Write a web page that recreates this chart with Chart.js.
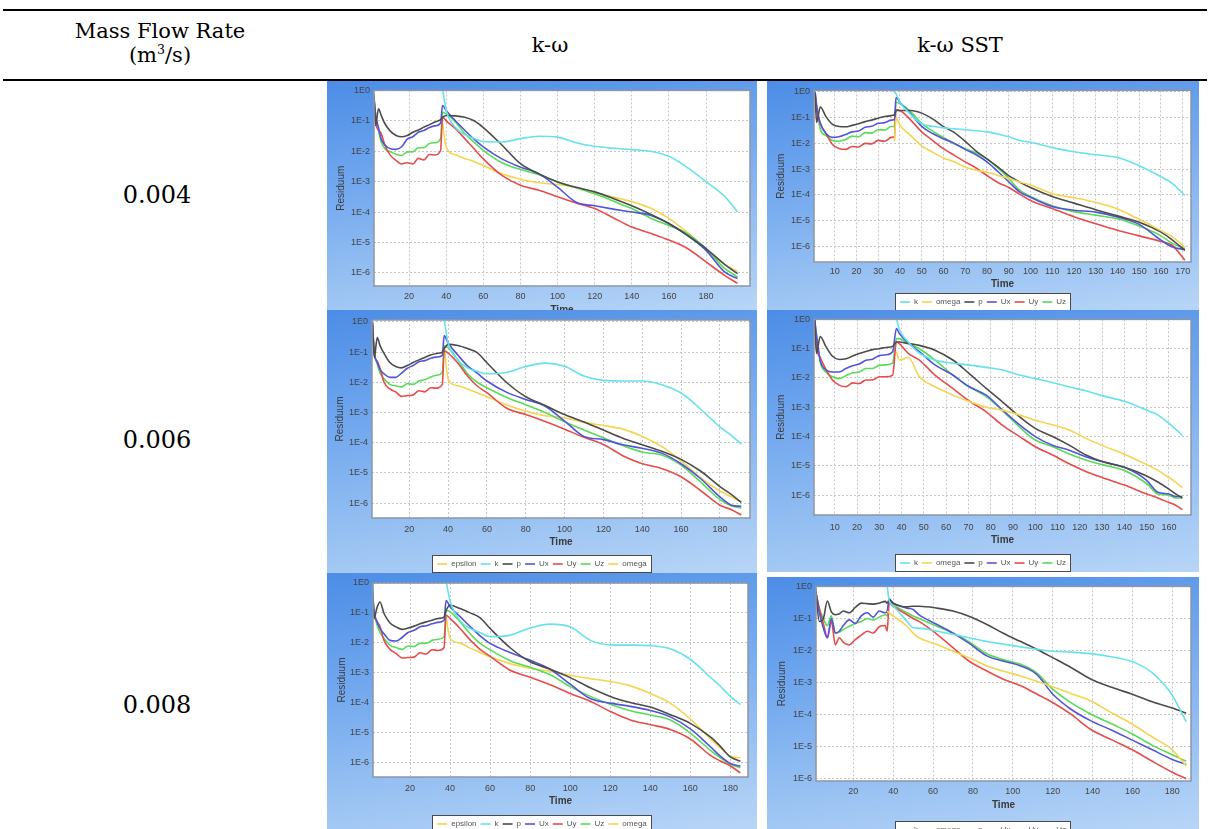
<!DOCTYPE html>
<html>
<head>
<meta charset="utf-8">
<script src="https://cdn.jsdelivr.net/npm/chart.js@4.4.0/dist/chart.umd.min.js"></script>
<style>
  body { margin: 0; width: 1208px; height: 829px; overflow: hidden; background: #fff; position: relative; }
  .rule { position: absolute; left: 3px; width: 1204px; height: 2px; background: #000; }
  .txt { position: absolute; font-family: 'DejaVu Serif', 'Liberation Serif', serif; font-size: 21px; line-height: 24px; color: #000; text-align: center; white-space: nowrap; }
  .txt sup { font-size: 60%; line-height: 0; }
  .num { font-size: 24px; }
  .panel { position: absolute; overflow: hidden;
           background: linear-gradient(172deg, #4d8de6 0%, #6fa6ee 35%, #9cc4f3 75%, #b8d5f7 100%); }
  .panel canvas { position: absolute; left: 0; top: 0; }
</style>
</head>
<body>
<div class="rule" style="top:9px"></div>
<div class="rule" style="top:79px"></div>
<div class="txt" style="left:0;width:320px;top:19px">Mass Flow Rate<br>(m<sup>3</sup>/s)</div>
<div class="txt" style="left:350px;width:400px;top:33px">k-ω</div>
<div class="txt" style="left:760px;width:400px;top:33px">k-ω SST</div>
<div class="txt num" style="left:57px;width:200px;top:183px">0.004</div>
<div class="txt num" style="left:57px;width:200px;top:428px">0.006</div>
<div class="txt num" style="left:57px;width:200px;top:693px">0.008</div>

<div class="panel" id="boxA"><canvas id="chartA"></canvas></div>
<div class="panel" id="boxB"><canvas id="chartB"></canvas></div>
<div class="panel" id="boxC"><canvas id="chartC"></canvas></div>
<div class="panel" id="boxD"><canvas id="chartD"></canvas></div>
<div class="panel" id="boxE"><canvas id="chartE"></canvas></div>
<div class="panel" id="boxF"><canvas id="chartF"></canvas></div>

<script>
// series names and tick labels
const namesKw = ['epsilon', 'k', 'p', 'Ux', 'Uy', 'Uz', 'omega'];
const namesSst = ['k', 'omega', 'p', 'Ux', 'Uy', 'Uz'];
const yTickValues = [1e-6, 1e-5, 1e-4, 1e-3, 1e-2, 1e-1, 1];
const yTickLabels = ['1E-6', '1E-5', '1E-4', '1E-3', '1E-2', '1E-1', '1E0'];
const xTicks20 = [20, 40, 60, 80, 100, 120, 140, 160, 180];
const xTicks10 = [10, 20, 30, 40, 50, 60, 70, 80, 90, 100, 110, 120, 130, 140, 150, 160, 170];

// k-omega, 0.004
const timeA = [1, 2, 3.5, 5, 7, 10, 13, 16, 19, 22, 25, 28, 31, 34, 37, 38, 40, 45, 50, 55, 60, 70, 80, 90, 100, 110, 120, 130, 140, 150, 160, 170, 180, 190, 197];
const pA = [0.78, 0.07, 0.25, 0.15, 0.08, 0.045, 0.033, 0.03, 0.033, 0.042, 0.05, 0.062, 0.075, 0.092, 0.11, 0.13, 0.15, 0.145, 0.13, 0.1, 0.06, 0.016, 0.0039, 0.0018, 9.8e-4, 6.5e-4, 4.6e-4, 2.8e-4, 1.6e-4, 8.5e-5, 4.2e-5, 1.7e-5, 6.3e-6, 1.9e-6, 9.5e-7];
const kA = [null, null, null, null, null, null, null, null, null, null, null, null, null, null, null, 1.2, 0.22, 0.06, 0.035, 0.026, 0.021, 0.02, 0.026, 0.031, 0.029, 0.019, 0.0145, 0.0125, 0.0113, 0.01, 0.0068, 0.0029, 0.001, 3.3e-4, 1.0e-4];
const omegaA = [null, null, null, null, null, null, null, null, null, null, null, null, null, null, null, 0.09, 0.014, 0.0076, 0.0058, 0.0046, 0.0034, 0.0018, 0.0012, 9.2e-4, 8e-4, 6.4e-4, 4.4e-4, 3.1e-4, 2.2e-4, 1.35e-4, 6.2e-5, 2.1e-5, 6e-6, 1.9e-6, 1.1e-6];
const uxA = [0.69, 0.15, 0.06, 0.025, 0.016, 0.012, 0.0115, 0.014, 0.025, 0.03, 0.042, 0.048, 0.06, 0.068, 0.085, 0.32, 0.22, 0.1, 0.049, 0.025, 0.014, 0.0056, 0.003, 0.0018, 6.6e-4, 2.1e-4, 1.6e-4, 1.25e-4, 1.0e-4, 7.9e-5, 4.2e-5, 1.7e-5, 5.5e-6, 1.07e-6, 6.5e-7];
const uyA = [0.69, 0.09, 0.05, 0.038, 0.0155, 0.0073, 0.005, 0.0038, 0.0042, 0.0038, 0.0058, 0.0052, 0.0078, 0.0075, 0.0107, 0.13, 0.1, 0.055, 0.026, 0.012, 0.0056, 0.0016, 7.6e-4, 5.2e-4, 3.2e-4, 2e-4, 1.3e-4, 6.5e-5, 3.2e-5, 2e-5, 1.2e-5, 6.3e-6, 2.3e-6, 8.3e-7, 4.5e-7];
const uzA = [0.69, 0.15, 0.05, 0.02, 0.012, 0.0095, 0.008, 0.0072, 0.0095, 0.0095, 0.013, 0.013, 0.018, 0.019, 0.026, 0.19, 0.17, 0.091, 0.038, 0.02, 0.0107, 0.0042, 0.0025, 0.0017, 9.8e-4, 6.3e-4, 4e-4, 2.3e-4, 1.3e-4, 6.4e-5, 3.6e-5, 1.95e-5, 6.3e-6, 1.4e-6, 7.4e-7];

// k-omega, 0.006
const timeB = [1, 2, 3.5, 5, 7, 10, 13, 16, 19, 22, 25, 28, 31, 34, 37, 38, 40, 45, 50, 55, 60, 70, 80, 90, 100, 110, 120, 130, 140, 150, 160, 170, 180, 186, 191];
const pB = [0.95, 0.065, 0.3, 0.16, 0.09, 0.045, 0.033, 0.03, 0.036, 0.045, 0.055, 0.066, 0.08, 0.09, 0.1, 0.13, 0.18, 0.165, 0.13, 0.095, 0.044, 0.01, 0.0033, 0.0017, 8.5e-4, 4.8e-4, 2.6e-4, 1.4e-4, 8.5e-5, 5.2e-5, 2.8e-5, 1.15e-5, 3.5e-6, 1.9e-6, 1.05e-6];
const kB = [null, null, null, null, null, null, null, null, null, null, null, null, null, null, null, 1.2, 0.2, 0.055, 0.03, 0.023, 0.019, 0.021, 0.033, 0.043, 0.034, 0.016, 0.0115, 0.011, 0.011, 0.0083, 0.0044, 0.0013, 3.3e-4, 1.7e-4, 9e-5];
const omegaB = [null, null, null, null, null, null, null, null, null, null, null, null, null, null, null, 0.15, 0.013, 0.0076, 0.006, 0.0045, 0.0033, 0.0018, 0.0011, 7.8e-4, 6.6e-4, 4.7e-4, 3.7e-4, 2.8e-4, 1.6e-4, 7.5e-5, 2.5e-5, 7e-6, 2.5e-6, 1.6e-6, 1.1e-6];
const uxB = [0.95, 0.1, 0.045, 0.026, 0.019, 0.0145, 0.0145, 0.02, 0.029, 0.036, 0.048, 0.052, 0.062, 0.068, 0.078, 0.35, 0.2, 0.08, 0.035, 0.02, 0.011, 0.0047, 0.0027, 0.0016, 5.2e-4, 1.6e-4, 1.26e-4, 8.5e-5, 6.5e-5, 4.5e-5, 2e-5, 6.5e-6, 1.6e-6, 8.5e-7, 7.8e-7];
const uyB = [0.95, 0.08, 0.05, 0.028, 0.01, 0.006, 0.0048, 0.0034, 0.0036, 0.0038, 0.0052, 0.0048, 0.0066, 0.0064, 0.0085, 0.11, 0.092, 0.043, 0.016, 0.0075, 0.0045, 0.0014, 8.5e-4, 5e-4, 2.8e-4, 1.5e-4, 8.7e-5, 3.7e-5, 2e-5, 1.4e-5, 7.4e-6, 2.6e-6, 8.5e-7, 6e-7, 4e-7];
const uzB = [0.95, 0.1, 0.04, 0.02, 0.013, 0.0085, 0.0076, 0.007, 0.009, 0.0085, 0.011, 0.012, 0.015, 0.017, 0.021, 0.16, 0.14, 0.055, 0.019, 0.01, 0.0066, 0.0032, 0.0018, 0.001, 4.9e-4, 2.6e-4, 1.45e-4, 8e-5, 4.9e-5, 3.9e-5, 1.8e-5, 5e-6, 1.3e-6, 8e-7, 6.8e-7];

// k-omega, 0.008
const timeC = [1, 2, 3.5, 5, 7, 10, 13, 16, 19, 22, 25, 28, 31, 34, 37, 38, 40, 45, 50, 55, 60, 70, 80, 90, 100, 110, 120, 130, 140, 150, 160, 170, 175, 180, 185];
const pC = [0.98, 0.065, 0.15, 0.23, 0.095, 0.046, 0.034, 0.028, 0.031, 0.036, 0.043, 0.05, 0.057, 0.065, 0.072, 0.12, 0.18, 0.14, 0.1, 0.068, 0.03, 0.0068, 0.0023, 0.0013, 6.8e-4, 3.1e-4, 1.6e-4, 1e-4, 7e-5, 3.9e-5, 2e-5, 7e-6, 3.4e-6, 1.5e-6, 1.07e-6];
const kC = [null, null, null, null, null, null, null, null, null, null, null, null, null, null, null, 1.2, 0.25, 0.055, 0.03, 0.022, 0.016, 0.018, 0.031, 0.042, 0.034, 0.012, 0.0085, 0.0083, 0.008, 0.0063, 0.0028, 7e-4, 3.5e-4, 1.6e-4, 8.5e-5];
const omegaC = [null, null, null, null, null, null, null, null, null, null, null, null, null, null, null, 0.07, 0.014, 0.0097, 0.0066, 0.0047, 0.0034, 0.002, 0.0014, 0.0011, 8.2e-4, 6.3e-4, 5e-4, 3.6e-4, 2e-4, 9.5e-5, 2.8e-5, 6.2e-6, 3e-6, 1.6e-6, 1.4e-6];
const uxC = [0.98, 0.12, 0.05, 0.03, 0.02, 0.012, 0.0115, 0.015, 0.022, 0.026, 0.034, 0.037, 0.043, 0.048, 0.057, 0.26, 0.16, 0.075, 0.035, 0.017, 0.0095, 0.0047, 0.0026, 0.0013, 4.1e-4, 1.35e-4, 9.5e-5, 7.4e-5, 5.4e-5, 3.3e-5, 1.3e-5, 3.3e-6, 1.6e-6, 9e-7, 7.4e-7];
const uyC = [0.98, 0.1, 0.052, 0.035, 0.012, 0.006, 0.0044, 0.0031, 0.0032, 0.0033, 0.0046, 0.0042, 0.0058, 0.0055, 0.0069, 0.083, 0.065, 0.03, 0.0125, 0.006, 0.0035, 0.0012, 7e-4, 3.9e-4, 2e-4, 1.1e-4, 5e-5, 2.6e-5, 1.8e-5, 1.25e-5, 6e-6, 1.7e-6, 1.1e-6, 7.5e-7, 4.4e-7];
const uzC = [0.98, 0.12, 0.04, 0.022, 0.014, 0.0082, 0.0069, 0.006, 0.0078, 0.0075, 0.0095, 0.0095, 0.012, 0.013, 0.016, 0.12, 0.11, 0.05, 0.02, 0.0095, 0.0058, 0.0025, 0.0015, 8.5e-4, 3.4e-4, 1.6e-4, 8.7e-5, 5.3e-5, 3.8e-5, 2.6e-5, 9.5e-6, 2.5e-6, 1.4e-6, 8.5e-7, 6.5e-7];

// k-omega SST, 0.004
const timeD = [1, 1.7, 3.4, 6, 9, 12, 15, 18, 21, 24, 27, 30, 33, 36, 37.5, 38.2, 40, 45, 50, 55, 60, 65, 70, 75, 80, 85, 90, 95, 100, 110, 120, 130, 140, 150, 160, 165, 171];
const pD = [0.87, 0.065, 0.26, 0.11, 0.055, 0.045, 0.044, 0.05, 0.058, 0.07, 0.08, 0.095, 0.11, 0.12, 0.13, 0.19, 0.19, 0.19, 0.15, 0.09, 0.045, 0.026, 0.012, 0.005, 0.0025, 0.0012, 5.5e-4, 3.1e-4, 1.9e-4, 8.5e-5, 4.7e-5, 2.6e-5, 1.5e-5, 8.5e-6, 3.5e-6, 1.8e-6, 6.8e-7];
const kD = [null, null, null, null, null, null, null, null, null, null, null, null, null, 1.3, 1.0, 0.85, 0.4, 0.13, 0.058, 0.046, 0.04, 0.037, 0.034, 0.031, 0.028, 0.023, 0.018, 0.013, 0.011, 0.0068, 0.0047, 0.0036, 0.0028, 0.00135, 5e-4, 2.8e-4, 9.3e-5];
const omegaD = [null, null, null, null, null, null, null, null, null, null, null, null, null, null, 0.012, 0.1, 0.05, 0.02, 0.008, 0.0045, 0.0027, 0.0019, 0.0012, 9e-4, 7.6e-4, 5.6e-4, 4.3e-4, 3.1e-4, 2.4e-4, 1.1e-4, 7.6e-5, 5e-5, 2.8e-5, 1.1e-5, 4e-6, 2.4e-6, 9e-7];
const uxD = [1.0, 0.3, 0.06, 0.024, 0.017, 0.018, 0.022, 0.028, 0.03, 0.042, 0.046, 0.06, 0.064, 0.08, 0.085, 0.6, 0.4, 0.14, 0.046, 0.024, 0.015, 0.0098, 0.0058, 0.0036, 0.0019, 8e-4, 3.2e-4, 1.3e-4, 8e-5, 3.5e-5, 2.5e-5, 2.1e-5, 1.35e-5, 7e-6, 1.7e-6, 9.5e-7, 7.2e-7];
const uyD = [1.0, 0.2, 0.06, 0.024, 0.009, 0.0063, 0.0058, 0.0075, 0.0072, 0.01, 0.0095, 0.013, 0.012, 0.017, 0.018, 0.2, 0.19, 0.08, 0.028, 0.013, 0.0062, 0.0034, 0.0019, 0.0011, 5.6e-4, 3e-4, 1.9e-4, 1.05e-4, 6e-5, 2.9e-5, 1.4e-5, 7.4e-6, 4.1e-6, 2.5e-6, 1.5e-6, 1.1e-6, 2.8e-7];
const uzD = [1.0, 0.3, 0.035, 0.02, 0.013, 0.012, 0.014, 0.019, 0.018, 0.026, 0.025, 0.034, 0.033, 0.045, 0.045, 0.4, 0.35, 0.17, 0.06, 0.03, 0.017, 0.0098, 0.0062, 0.0042, 0.0025, 0.0011, 4.3e-4, 1.5e-4, 8.5e-5, 3.7e-5, 2.2e-5, 1.6e-5, 1.15e-5, 6e-6, 2.5e-6, 1.3e-6, 8e-7];

// k-omega SST, 0.006
const timeE = [1, 1.8, 3.5, 6, 9, 12, 15, 18, 21, 24, 27, 30, 33, 36, 37.7, 39, 43, 48, 55, 63, 70, 78, 85, 93, 100, 108, 115, 123, 130, 140, 150, 155, 160, 163, 166];
const pE = [0.96, 0.069, 0.26, 0.12, 0.055, 0.043, 0.045, 0.056, 0.069, 0.08, 0.093, 0.1, 0.11, 0.12, 0.17, 0.17, 0.15, 0.13, 0.089, 0.041, 0.015, 0.0044, 0.0016, 4.7e-4, 1.9e-4, 9.8e-5, 5.2e-5, 2.3e-5, 1.4e-5, 8.9e-6, 4.5e-6, 2.8e-6, 1.6e-6, 1.1e-6, 8e-7];
const kE = [null, null, null, null, null, null, null, null, null, null, null, null, null, null, 1.1, 0.45, 0.17, 0.07, 0.041, 0.032, 0.028, 0.023, 0.019, 0.0126, 0.0095, 0.0069, 0.005, 0.0036, 0.0025, 0.0016, 8e-4, 5.5e-4, 2.8e-4, 1.8e-4, 1.1e-4];
const omegaE = [null, null, null, null, null, null, null, null, null, null, null, null, null, null, 0.08, 0.041, 0.05, 0.011, 0.005, 0.0026, 0.0016, 0.001, 8e-4, 5.4e-4, 3.6e-4, 2.5e-4, 1.7e-4, 8.5e-5, 5e-5, 2.5e-5, 1.1e-5, 7e-6, 4e-6, 2.8e-6, 1.8e-6];
const uxE = [0.96, 0.3, 0.04, 0.019, 0.016, 0.016, 0.021, 0.026, 0.03, 0.04, 0.044, 0.058, 0.062, 0.079, 0.49, 0.33, 0.16, 0.079, 0.028, 0.0126, 0.0052, 0.0026, 8.5e-4, 2.5e-4, 1e-4, 5e-5, 3.5e-5, 2e-5, 1.4e-5, 8.9e-6, 3.2e-6, 1.26e-6, 1.1e-6, 9e-7, 9e-7];
const uyE = [0.96, 0.12, 0.05, 0.02, 0.0085, 0.0057, 0.005, 0.0068, 0.0065, 0.0085, 0.0085, 0.011, 0.011, 0.0126, 0.17, 0.15, 0.069, 0.041, 0.0126, 0.0044, 0.0017, 7e-4, 2.5e-4, 1e-4, 4.5e-5, 2.3e-5, 1.2e-5, 6.3e-6, 4e-6, 2.2e-6, 1.1e-6, 8e-7, 5.6e-7, 4.5e-7, 3.2e-7];
const uzE = [0.96, 0.3, 0.034, 0.016, 0.011, 0.0095, 0.012, 0.015, 0.016, 0.021, 0.021, 0.027, 0.028, 0.032, 0.22, 0.22, 0.15, 0.1, 0.041, 0.0126, 0.0052, 0.0023, 8e-4, 2.1e-4, 7.6e-5, 4.5e-5, 2.6e-5, 1.55e-5, 1.1e-5, 7e-6, 2.5e-6, 1.1e-6, 1e-6, 8e-7, 8e-7];

// k-omega SST, 0.008
const timeF = [1, 3, 5, 7, 9, 11, 13, 15, 18, 21, 24, 27, 30, 33, 36, 37, 38, 40, 47, 50, 53, 62, 70, 78, 87, 95, 104, 112, 120, 129, 139, 150, 160, 170, 180, 187];
const pF = [0.88, 0.08, 0.1, 0.35, 0.16, 0.13, 0.14, 0.17, 0.15, 0.22, 0.3, 0.29, 0.28, 0.3, 0.34, 0.3, 0.38, 0.3, 0.23, 0.24, 0.24, 0.21, 0.17, 0.117, 0.065, 0.035, 0.019, 0.011, 0.006, 0.003, 0.0013, 7e-4, 4.3e-4, 2.5e-4, 1.6e-4, 1.1e-4];
const kF = [null, null, null, null, null, null, null, null, null, null, null, null, null, null, 1.3, 1.0, 0.36, 0.25, 0.081, 0.051, 0.05, 0.04, 0.032, 0.025, 0.019, 0.016, 0.013, 0.011, 0.0095, 0.0089, 0.008, 0.0063, 0.0045, 0.002, 4e-4, 6e-5];
const omegaF = [null, null, null, null, null, null, null, null, null, null, null, null, null, null, null, 0.17, 0.15, 0.12, 0.057, 0.035, 0.025, 0.0155, 0.0095, 0.006, 0.0033, 0.0023, 0.0016, 0.0011, 7.4e-4, 4.6e-4, 2.7e-4, 1.1e-4, 5e-5, 2e-5, 8e-6, 2.5e-6];
const uxF = [0.8, 0.15, 0.05, 0.025, 0.1, 0.035, 0.04, 0.06, 0.09, 0.07, 0.12, 0.15, 0.11, 0.17, 0.15, 0.17, 0.4, 0.3, 0.21, 0.19, 0.13, 0.065, 0.035, 0.017, 0.0068, 0.0047, 0.0033, 0.0018, 4.4e-4, 1.5e-4, 6.5e-5, 3.2e-5, 1.6e-5, 8e-6, 4e-6, 2.8e-6];
const uyF = [0.8, 0.2, 0.07, 0.025, 0.08, 0.015, 0.025, 0.018, 0.015, 0.022, 0.03, 0.04, 0.035, 0.055, 0.06, 0.04, 0.3, 0.24, 0.13, 0.1, 0.081, 0.032, 0.0123, 0.0047, 0.0023, 0.0013, 7.9e-4, 4.4e-4, 2.4e-4, 1.05e-4, 3.5e-5, 1.6e-5, 8e-6, 3.5e-6, 1.6e-6, 1e-6];
const uzF = [0.8, 0.2, 0.1, 0.06, 0.12, 0.035, 0.038, 0.045, 0.057, 0.07, 0.08, 0.1, 0.09, 0.11, 0.13, 0.12, 0.34, 0.27, 0.15, 0.12, 0.1, 0.057, 0.035, 0.019, 0.0079, 0.0052, 0.0037, 0.002, 6.2e-4, 2.4e-4, 1.05e-4, 5e-5, 2.5e-5, 1.1e-5, 5.6e-6, 3.5e-6];

const lineColors = {
  epsilon: '#f3d04c', k: '#66e2ea', p: '#4c4c4c', Ux: '#5454da',
  Uy: '#e64c4c', Uz: '#58dc58', omega: '#f5d452'
};

Chart.defaults.font.family = "'Liberation Sans', Arial, sans-serif";
Chart.defaults.color = '#444';

// white plot area with a grey outline, and a framed legend like the original screenshots
const framePlugin = {
  id: 'frame',
  beforeDraw(chart) {
    const { ctx, chartArea: a } = chart;
    ctx.save();
    ctx.fillStyle = '#ffffff';
    ctx.fillRect(a.left, a.top, a.right - a.left, a.bottom - a.top);
    const b = legendBounds(chart);
    if (b) ctx.fillRect(b.x, b.y, b.w, b.h);
    ctx.restore();
  },
  afterDraw(chart) {
    const { ctx, chartArea: a } = chart;
    ctx.save();
    ctx.strokeStyle = '#8c96a4';
    ctx.lineWidth = 1.5;
    ctx.strokeRect(a.left, a.top, a.right - a.left, a.bottom - a.top);
    const b = legendBounds(chart);
    if (b) {
      ctx.strokeStyle = '#4a4a4a';
      ctx.lineWidth = 1;
      ctx.strokeRect(b.x + 0.5, b.y + 0.5, b.w, b.h);
    }
    ctx.restore();
  }
};

function legendBounds(chart) {
  const hb = chart.legend && chart.legend.legendHitBoxes;
  if (!hb || !hb.length) return null;
  const x0 = Math.min(...hb.map(h => h.left));
  const x1 = Math.max(...hb.map(h => h.left + h.width));
  const y0 = Math.min(...hb.map(h => h.top));
  const y1 = Math.max(...hb.map(h => h.top + h.height));
  return { x: Math.round(x0 - 5), y: Math.round(y0 - 5), w: Math.round(x1 - x0 + 9), h: Math.round(y1 - y0 + 9) };
}

// box: [left, top, width, visible height]; plot: [left, top, right, bottom] in page pixels
function residualChart(id, lay, time, series, names, xTicks) {
  const [bx, by, bw, bh] = lay.box;
  const box = document.getElementById('box' + id);
  box.style.left = bx + 'px';
  box.style.top = by + 'px';
  box.style.width = bw + 'px';
  box.style.height = bh + 'px';

  const pad = bw - (lay.plot[2] - bx);
  const plotLeft = lay.plot[0] - bx;
  const plotTop = lay.plot[1] - by;
  const plotBottom = lay.plot[3] - by;
  const legendH = 22;
  const canvasH = Math.round(plotBottom + lay.legendGap - 8 + legendH);
  const axisH = canvasH - legendH - plotBottom;

  const canvas = document.getElementById('chart' + id);
  canvas.width = bw;
  canvas.height = canvasH;

  const gridOpts = { color: '#c6c6c6', lineWidth: 1, drawTicks: false };
  const tickFont = { size: 9 };

  new Chart(canvas, {
    type: 'line',
    data: {
      labels: time,
      datasets: names.map(n => ({
        label: n,
        data: series[n] || [],
        borderColor: lineColors[n],
        backgroundColor: lineColors[n],
        borderWidth: 1.6,
        pointRadius: 0,
        cubicInterpolationMode: 'monotone',
        fill: false
      }))
    },
    options: {
      responsive: false,
      animation: false,
      devicePixelRatio: 1,
      layout: { padding: { left: pad, right: pad, top: plotTop, bottom: 0 } },
      plugins: {
        tooltip: { enabled: false },
        legend: {
          display: true,
          position: 'bottom',
          labels: {
            usePointStyle: true,
            pointStyle: 'line',
            pointStyleWidth: 10,
            boxHeight: 8,
            padding: 4,
            color: '#555',
            font: { size: 8 }
          }
        }
      },
      scales: {
        x: {
          type: 'linear',
          min: lay.x[0],
          max: lay.x[1],
          afterBuildTicks: s => { s.ticks = xTicks.filter(v => v >= lay.x[0] && v <= lay.x[1]).map(v => ({ value: v })); },
          afterFit: s => { s.height = axisH; },
          ticks: { font: tickFont, color: '#444', padding: lay.tickPad, maxRotation: 0, autoSkip: false },
          grid: gridOpts,
          border: { display: false, dash: [2, 2] },
          title: {
            display: true, text: 'Time', color: '#3a3a3a',
            font: { size: 10, weight: 'bold' },
            padding: { top: 0, bottom: axisH - 6 - lay.timeGap }
          }
        },
        y: {
          type: 'logarithmic',
          min: lay.y[0],
          max: lay.y[1],
          afterBuildTicks: s => { s.ticks = yTickValues.map(v => ({ value: v })); },
          afterFit: s => { s.width = plotLeft - pad; },
          ticks: {
            font: tickFont, color: '#444', padding: 4,
            callback: v => yTickLabels[yTickValues.indexOf(v)]
          },
          grid: gridOpts,
          border: { display: false, dash: [2, 2] },
          title: {
            display: true, text: 'Residuum', color: '#3a3a3a',
            font: { size: 10 },
            padding: { top: Math.max(0, lay.titleX - bx - pad - 6), bottom: 0 }
          }
        }
      }
    },
    plugins: [framePlugin]
  });
}

const layoutA = { box: [327, 81, 430, 229], plot: [374, 90, 750, 286], x: [1.1, 203.7], y: [3.7e-7, 1], tickPad: 5.6, timeGap: 24, legendGap: 46, titleX: 341 };
const layoutB = { box: [327, 310, 430, 263], plot: [372, 320, 750, 518], x: [0.8, 195.5], y: [3.2e-7, 1.15], tickPad: 6.3, timeGap: 24.7, legendGap: 46.2, titleX: 339 };
const layoutC = { box: [327, 573, 430, 256], plot: [373, 583, 748, 777], x: [1.5, 188.8], y: [3.2e-7, 1], tickPad: 6.3, timeGap: 24.7, legendGap: 46.7, titleX: 340 };
const layoutD = { box: [767, 81, 432, 229], plot: [814, 90, 1191, 262], x: [0.5, 173.8], y: [2.4e-7, 1.15], tickPad: 4.6, timeGap: 22.6, legendGap: 39.8, titleX: 781 };
const layoutE = { box: [767, 310, 432, 262], plot: [814, 319, 1191, 515], x: [0.7, 169.9], y: [2.1e-7, 1], tickPad: 6.9, timeGap: 25.7, legendGap: 47.5, titleX: 781 };
const layoutF = { box: [767, 577, 432, 252], plot: [816, 585, 1191, 781], x: [1.3, 189.4], y: [8.5e-7, 1], tickPad: 5.6, timeGap: 24.3, legendGap: 49, titleX: 782 };

residualChart('A', layoutA, timeA, { k: kA, p: pA, Ux: uxA, Uy: uyA, Uz: uzA, omega: omegaA }, namesKw, xTicks20);
residualChart('B', layoutB, timeB, { k: kB, p: pB, Ux: uxB, Uy: uyB, Uz: uzB, omega: omegaB }, namesKw, xTicks20);
residualChart('C', layoutC, timeC, { k: kC, p: pC, Ux: uxC, Uy: uyC, Uz: uzC, omega: omegaC }, namesKw, xTicks20);
residualChart('D', layoutD, timeD, { k: kD, p: pD, Ux: uxD, Uy: uyD, Uz: uzD, omega: omegaD }, namesSst, xTicks10);
residualChart('E', layoutE, timeE, { k: kE, p: pE, Ux: uxE, Uy: uyE, Uz: uzE, omega: omegaE }, namesSst, xTicks10);
residualChart('F', layoutF, timeF, { k: kF, p: pF, Ux: uxF, Uy: uyF, Uz: uzF, omega: omegaF }, namesSst, xTicks20);
</script>
</body>
</html>
